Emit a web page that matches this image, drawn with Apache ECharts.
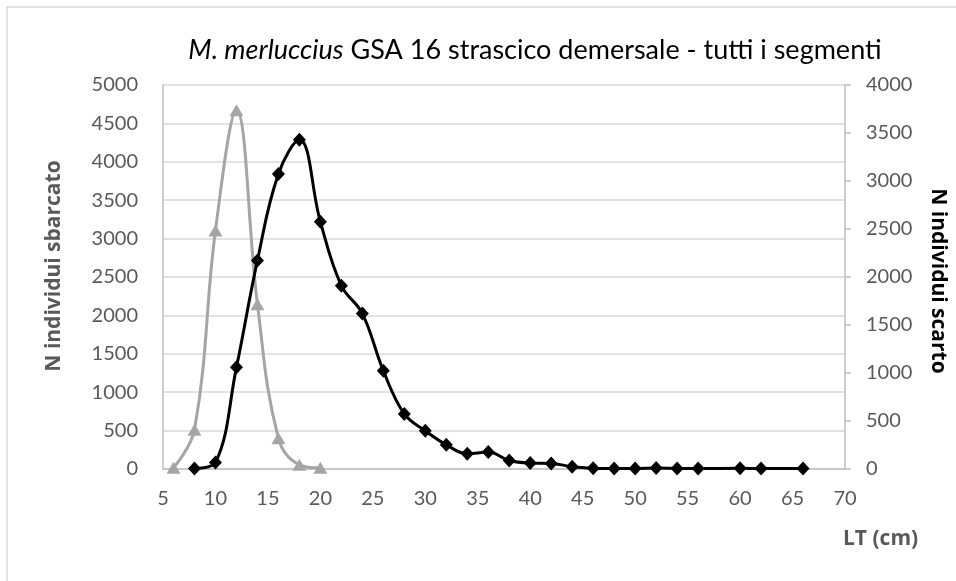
<!DOCTYPE html>
<html>
<head>
<meta charset="utf-8">
<script src="https://cdn.jsdelivr.net/npm/echarts@6/dist/echarts.min.js"></script>
<style>
  html, body { margin: 0; padding: 0; background: #fff; }
  #chart { width: 956px; height: 581px; }
</style>
</head>
<body>
<div id="chart"></div>
<script>
// lunghezza totale (cm) e numero individui
const ltSbarcato = [6, 8, 10, 12, 14, 16, 18, 20];
const nSbarcato = [15, 510, 3105, 4672, 2145, 402, 55, 15];

const ltScarto = [8, 10, 12, 14, 16, 18, 20, 22, 24, 26, 28, 30, 32, 34, 36, 38, 40, 42, 44, 46, 48, 50, 52, 54, 56, 60, 62, 66];
const nScarto = [4, 69, 1059, 2173, 3073, 3429, 2575, 1910, 1619, 1024, 574, 398, 252, 159, 176, 89, 62, 58, 24, 8, 4, 4, 10, 6, 4, 8, 4, 4];

const FONT = 'Lato';
const BOLD = 'Open Sans';
const GREY = '#a5a5a5';
const TXT = '#595959';

const chart = echarts.init(document.getElementById('chart'));

const option = {
  animation: false,
  textStyle: { fontFamily: FONT },
  title: {
    text: '{i|M. merluccius} GSA 16 strascico demersale - tutti i segmenti',
    left: 530,
    top: 32,
    textAlign: 'center',
    textStyle: {
      fontFamily: FONT,
      fontSize: 27,
      fontWeight: 'normal',
      color: '#000',
      rich: {
        i: { fontFamily: FONT, fontSize: 27, fontStyle: 'italic', color: '#000' }
      }
    }
  },
  grid: { left: 163, right: 104, top: 85, bottom: 112 },
  xAxis: {
    type: 'value',
    min: 5,
    max: 70,
    interval: 5,
    axisLine: { show: true, lineStyle: { color: '#bfbfbf', width: 1.5 } },
    axisTick: { show: false },
    splitLine: { show: false },
    axisLabel: { color: TXT, fontSize: 20, margin: 20, fontFamily: FONT }
  },
  yAxis: [
    {
      type: 'value',
      min: 0,
      max: 5000,
      interval: 500,
      name: 'N individui sbarcato',
      nameLocation: 'middle',
      nameGap: 98,
      nameTextStyle: { color: TXT, fontSize: 21, fontWeight: 'bold', fontFamily: BOLD, padding: [0, 0, 0, 22] },
      axisLine: { show: true, lineStyle: { color: '#bfbfbf', width: 1.5 } },
      axisTick: { show: false },
      splitLine: { lineStyle: { color: '#d9d9d9', width: 1.5 } },
      axisLabel: { color: TXT, fontSize: 20, margin: 25, fontFamily: FONT, formatter: v => String(v) }
    },
    {
      type: 'value',
      min: 0,
      max: 4000,
      interval: 500,
      position: 'right',
      name: 'N individui scarto',
      nameLocation: 'middle',
      nameGap: 82,
      nameRotate: -90,
      nameTextStyle: { color: '#000', fontSize: 21, fontWeight: 'bold', fontFamily: BOLD, padding: [0, 0, 0, 8] },
      axisLine: { show: true, lineStyle: { color: '#bfbfbf', width: 1.5 } },
      axisTick: { show: true, inside: false, length: 6, lineStyle: { color: '#bfbfbf', width: 1.5 } },
      splitLine: { show: false },
      axisLabel: { color: TXT, fontSize: 20, margin: 21, fontFamily: FONT, formatter: v => String(v) }
    }
  ],
  graphic: [
    {
      type: 'rect',
      shape: { x: 7, y: 7, width: 1000, height: 640 },
      style: { fill: 'none', stroke: '#d9d9d9', lineWidth: 1.5 },
      silent: true
    },
    {
      type: 'text',
      left: 843,
      top: 529,
      style: { text: 'LT (cm)', fill: TXT, font: 'bold 21px "' + BOLD + '"' }
    }
  ],
  series: [
    {
      name: 'sbarcato',
      type: 'line',
      yAxisIndex: 0,
      smooth: 0.4,
      data: ltSbarcato.map((x, i) => [x, nSbarcato[i]]),
      symbol: 'triangle',
      symbolSize: [14, 12],
      lineStyle: { color: GREY, width: 3 },
      itemStyle: { color: GREY },
      z: 2
    },
    {
      name: 'scarto',
      type: 'line',
      yAxisIndex: 1,
      smooth: 0.4,
      data: ltScarto.map((x, i) => [x, nScarto[i]]),
      symbol: 'diamond',
      symbolSize: [13, 14],
      lineStyle: { color: '#000', width: 3 },
      itemStyle: { color: '#000' },
      z: 3
    }
  ]
};

chart.setOption(option);
</script>
</body>
</html>
